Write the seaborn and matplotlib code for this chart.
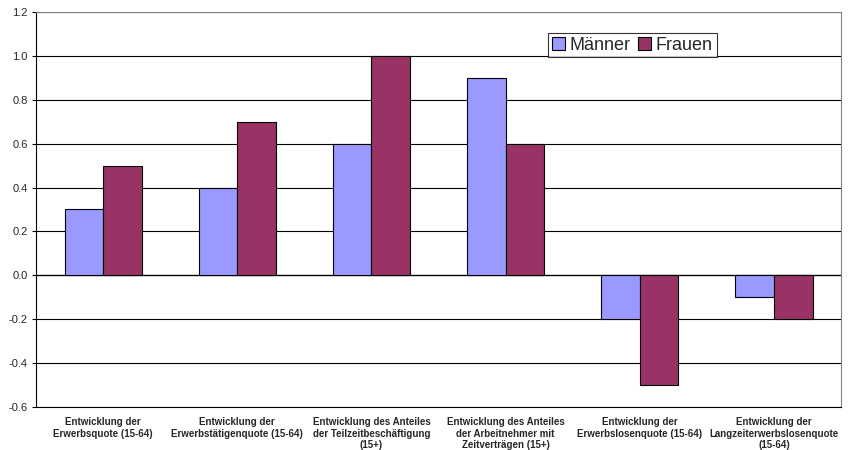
import seaborn as sns
import matplotlib.pyplot as plt
import pandas as pd

# Category labels (x axis) and values per series
categories = [
    'Entwicklung der\nErwerbsquote (15-64)',
    'Entwicklung der\nErwerbstätigenquote (15-64)',
    'Entwicklung des Anteiles\nder Teilzeitbeschäftigung\n(15+)',
    'Entwicklung des Anteiles\nder Arbeitnehmer mit\nZeitverträgen (15+)',
    'Entwicklung der\nErwerbslosenquote (15-64)',
    'Entwicklung der\nLangzeiterwerbslosenquote\n(15-64)',
]
maenner = [0.3, 0.4, 0.6, 0.9, -0.2, -0.1]
frauen = [0.5, 0.7, 1.0, 0.6, -0.5, -0.2]
series = ['Männer', 'Frauen']
colors = ['#9999FF', '#993366']
yticks = [-0.6, -0.4, -0.2, 0.0, 0.2, 0.4, 0.6, 0.8, 1.0, 1.2]

df = pd.DataFrame({
    'Kategorie': categories * 2,
    'Wert': maenner + frauen,
    'Gruppe': ['Männer'] * len(categories) + ['Frauen'] * len(categories),
})

sns.set_style("white")
plt.rcParams['font.family'] = ['Liberation Sans', 'DejaVu Sans']

fig = plt.figure(figsize=(8.48, 4.5), dpi=100)
ax = fig.add_axes([0.0425, 0.0956, 0.9493, 0.8777])

sns.barplot(data=df, x='Kategorie', y='Wert', hue='Gruppe', hue_order=series,
            palette=colors, order=categories, width=0.575, saturation=1,
            edgecolor='black', linewidth=0.8, ax=ax, zorder=3)

ax.set_ylim(-0.6, 1.2)
ax.set_xlim(-0.5, len(categories) - 0.5)
ax.set_yticks(yticks)
ax.set_yticklabels([f'{v:.1f}' for v in yticks], fontsize=8)
ax.yaxis.grid(True, color='#000000', linewidth=0.8)
ax.set_axisbelow(True)
ax.set_xlabel('')
ax.set_ylabel('')
ax.tick_params(axis='y', left=True, length=3, width=0.8, pad=3, color='black')
ax.tick_params(axis='x', bottom=False, pad=4)
for lbl in ax.get_xticklabels():
    lbl.set_fontsize(7)
    lbl.set_fontweight('bold')
    lbl.set_verticalalignment('top')
    lbl.set_linespacing(1.15)

for side in ['top', 'right']:
    ax.spines[side].set_color('#808080')
    ax.spines[side].set_linewidth(0.8)
for side in ['left', 'bottom']:
    ax.spines[side].set_color('black')
    ax.spines[side].set_linewidth(0.8)

# zero line acting as category axis
ax.axhline(0, color='black', linewidth=0.9, zorder=2)

leg = ax.legend(loc='upper left', bbox_to_anchor=(0.636, 0.947), ncol=2,
                fontsize=13, frameon=True, fancybox=False, edgecolor='black',
                handlelength=0.75, handleheight=0.75, handletextpad=0.25,
                columnspacing=0.4, borderpad=0.2, borderaxespad=0)
leg.get_frame().set_linewidth(0.8)

fig.savefig('out.png', dpi=100, facecolor='white')
plt.close(fig)
